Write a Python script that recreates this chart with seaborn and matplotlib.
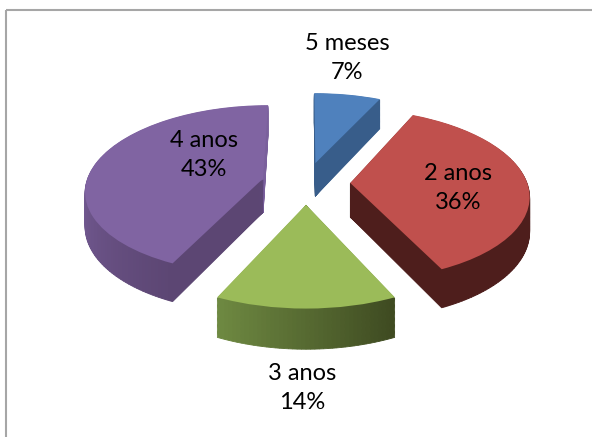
import numpy as np
import matplotlib
matplotlib.use('Agg')
import matplotlib.pyplot as plt
import matplotlib.transforms as mtransforms
from matplotlib.patches import Rectangle, Wedge
import seaborn as sns

# dados do grafico
categories = ['5 meses', '2 anos', '3 anos', '4 anos']
percent = [7, 36, 14, 43]

top_colors = ['#4F81BD', '#C0504D', '#9BBB59', '#8064A2']
# cor da parede lateral: inicio (sentido horario) e fim do gradiente
side_start = ['#385D8A', '#4E1E1C', '#3E4A21', '#5C4673']
side_end = ['#385D8A', '#4E1E1C', '#6F8A42', '#7A609C']
gradient_span = [1.0, 1.0, 1.0, 0.5]

label_xy = [(347, 58), (458, 188), (302, 388), (204, 155)]

# projecao em perspectiva do disco para pixels
X0, Y0 = 306, 183
RX, RY = 177, 84
PERSP = 0.131
DEPTH = 34


class Perspective(mtransforms.Transform):
    input_dims = 2
    output_dims = 2
    is_separable = False
    has_inverse = False

    def __init__(self, height=0.0):
        super().__init__()
        self.height = height

    def transform_non_affine(self, values):
        values = np.asarray(values, dtype=float)
        u, v = values[:, 0], values[:, 1]
        s = 1 / (1 + PERSP * v)
        return np.column_stack([X0 + RX * u * s, Y0 + (self.height - RY * v) * s])


sns.set_theme(style='white')
plt.rcParams['font.family'] = ['Lato', 'DejaVu Sans']

fig = plt.figure(figsize=(5.92, 4.37), dpi=100)
ax = fig.add_axes([0, 0, 1, 1])

wedges, _ = ax.pie(percent, explode=[0.25] * 4, colors=top_colors, startangle=90,
                   counterclock=False, radius=1)

# as fatias ficam por cima das paredes laterais
for w in wedges:
    w.set_transform(Perspective(0) + ax.transData)
    w.set_zorder(3)
    w.set_linewidth(0)

# paredes laterais: pilha de fatias finas, do fundo para o topo
for i, w in enumerate(wedges):
    c0 = np.array(matplotlib.colors.to_rgb(side_start[i]))
    c1 = np.array(matplotlib.colors.to_rgb(side_end[i]))
    edges = np.linspace(w.theta2, w.theta1, max(int(percent[i] * 3), 4) + 1)
    for h in np.arange(DEPTH, 0, -1.0):
        tr = Perspective(h) + ax.transData
        for k in range(len(edges) - 1):
            t = min(1.0, (k + 0.5) / (len(edges) - 1) / gradient_span[i])
            col = c0 + (c1 - c0) * t
            side = Wedge(w.center, w.r, edges[k + 1], edges[k], facecolor=col,
                         edgecolor=col, linewidth=0.6, transform=tr, zorder=2)
            ax.add_patch(side)

for name, p, (x, y) in zip(categories, percent, label_xy):
    ax.text(x, y, f'{name}\n{p}%', ha='center', va='center', fontsize=17,
            color='black', linespacing=1.5, zorder=5)

# moldura do grafico (cortada na direita e em baixo)
ax.add_patch(Rectangle((6, 10), 800, 600, fill=False, edgecolor='#A6A6A6',
                       linewidth=1.5, zorder=6))

ax.set_aspect('auto')
ax.set_xlim(0, 592)
ax.set_ylim(437, 0)
ax.axis('off')

fig.savefig('out.png', dpi=100, facecolor='white')
